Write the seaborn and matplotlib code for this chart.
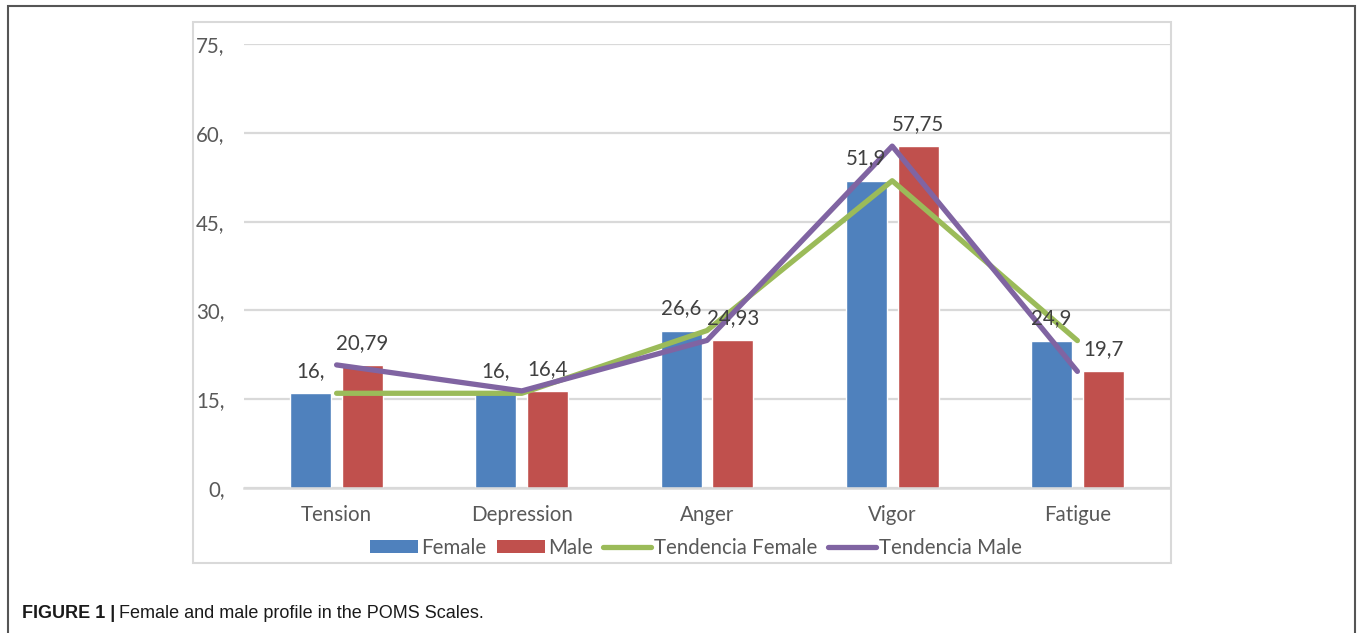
import numpy as np
import pandas as pd
import matplotlib
matplotlib.use("Agg")
import matplotlib.pyplot as plt
from matplotlib.patches import Rectangle, Patch
from matplotlib.lines import Line2D
import seaborn as sns

# data
scales = ["Tension", "Depression", "Anger", "Vigor", "Fatigue"]
female = [16.0, 16.0, 26.6, 51.9, 24.9]
male = [20.79, 16.4, 24.93, 57.75, 19.7]
female_labels = ["16,", "16,", "26,6", "51,9", "24,9"]
male_labels = ["20,79", "16,4", "24,93", "57,75", "19,7"]
yticks = [0, 15, 30, 45, 60, 75]
ytick_labels = ["0,", "15,", "30,", "45,", "60,", "75,"]

c_female = "#4F81BD"
c_male = "#C0504D"
c_tf = "#9BBB59"
c_tm = "#8064A2"
txt = "#595959"

sns.set_style("white")
plt.rcParams["font.family"] = ["Lato", "DejaVu Sans"]

df = pd.DataFrame({
    "scale": scales * 2,
    "value": female + male,
    "sex": ["Female"] * 5 + ["Male"] * 5,
})

fig = plt.figure(figsize=(13.58, 6.33), dpi=100)
ax = fig.add_axes([244 / 1358, 1 - 488 / 633, 926 / 1358, 444 / 633])

sns.barplot(data=df, x="scale", y="value", hue="sex", order=scales,
            palette=[c_female, c_male], width=0.56, gap=0.21,
            saturation=1, legend=False, ax=ax, zorder=2)

x = np.arange(len(scales))
sns.lineplot(x=x, y=female, color=c_tf, linewidth=3.8, ax=ax, zorder=3)
sns.lineplot(x=x, y=male, color=c_tm, linewidth=3.8, ax=ax, zorder=4)

# data labels above bars
for i in range(len(scales)):
    ax.annotate(female_labels[i], (i - 0.14, female[i]), xytext=(0, 16),
                textcoords="offset points", ha="center", va="center",
                fontsize=14.8, color="#404040", zorder=5)
    ax.annotate(male_labels[i], (i + 0.14, male[i]), xytext=(0, 16),
                textcoords="offset points", ha="center", va="center",
                fontsize=14.8, color="#404040", zorder=5)

ax.set_xlim(-0.5, 4.5)
ax.set_ylim(0, 75)
ax.set_yticks(yticks)
ax.set_yticklabels(ytick_labels)
ax.set_xlabel("")
ax.set_ylabel("")
ax.grid(axis="y", color="#D9D9D9", linewidth=1.6, zorder=0)
ax.set_axisbelow(True)
for s in ["top", "right", "left"]:
    ax.spines[s].set_visible(False)
ax.spines["bottom"].set_color("#D9D9D9")
ax.spines["bottom"].set_linewidth(1.8)
ax.tick_params(axis="y", length=0, pad=14, labelsize=14.8, labelcolor=txt)
ax.tick_params(axis="x", length=0, pad=12, labelsize=14.8, labelcolor=txt)

handles = [
    Patch(facecolor=c_female, edgecolor="none"),
    Patch(facecolor=c_male, edgecolor="none"),
    Line2D([0], [0], color=c_tf, linewidth=3.8),
    Line2D([0], [0], color=c_tm, linewidth=3.8),
]
fig.legend(handles, ["Female", "Male", "Tendencia Female", "Tendencia Male"],
           loc="center", bbox_to_anchor=(696 / 1358, 1 - 548 / 633), ncol=4,
           frameon=False, fontsize=14.8, labelcolor=txt, handlelength=2.35,
           handleheight=0.6, handletextpad=0.15, columnspacing=0.5)

# inner chart frame and outer figure frame
fig.add_artist(Rectangle((193 / 1358, 1 - 563 / 633), 978 / 1358, 541 / 633,
                         transform=fig.transFigure, fill=False,
                         edgecolor="#D9D9D9", linewidth=1.5))
fig.add_artist(Rectangle((8 / 1358, -0.05), 1347 / 1358, 1.05 - 6 / 633,
                         transform=fig.transFigure, fill=False,
                         edgecolor="#555555", linewidth=1.5))

# caption
cap_y = 1 - 613 / 633
t1 = fig.text(22 / 1358, cap_y, "FIGURE 1 |", fontsize=13, fontweight="bold",
              family="Liberation Sans", color="#1a1a1a", va="center")
fig.canvas.draw()
bb = t1.get_window_extent()
fig.text((bb.x1 + 4) / 1358, cap_y, "Female and male profile in the POMS Scales.",
         fontsize=13, family="Liberation Sans", color="#1a1a1a", va="center")

fig.savefig("out.png", dpi=100)
